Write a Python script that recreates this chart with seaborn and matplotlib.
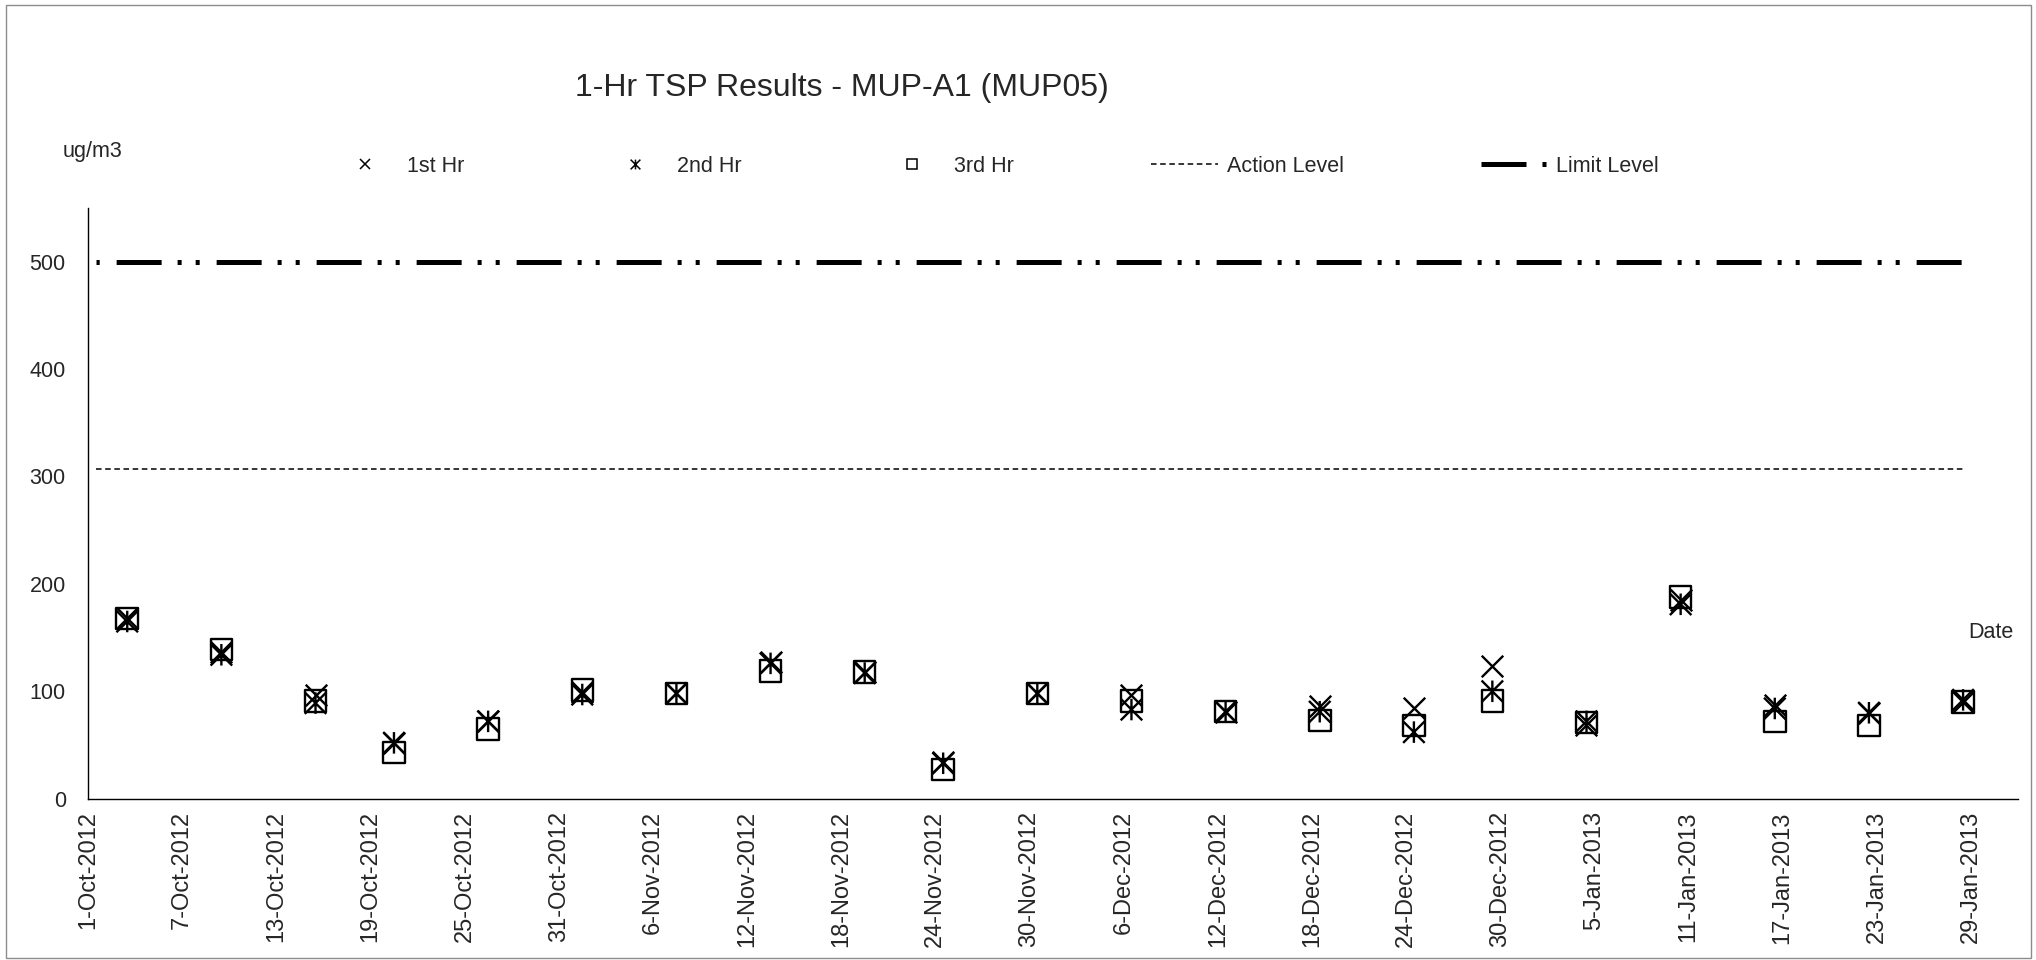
"""
1-Hr TSP results at MUP-A1 (MUP05): three hourly readings per sampling day
plus the action and limit levels.
"""
import numpy as np
import pandas as pd
import matplotlib
matplotlib.use("Agg")
import matplotlib.pyplot as plt
import matplotlib.dates as mdates
from matplotlib.lines import Line2D
from matplotlib.path import Path
from matplotlib.patches import Rectangle
import seaborn as sns

# -----------------------------------------------------------------------------
# Data
# -----------------------------------------------------------------------------
sample_dates = [
    "2012-10-03", "2012-10-09", "2012-10-15", "2012-10-20", "2012-10-26",
    "2012-11-01", "2012-11-07", "2012-11-13", "2012-11-19", "2012-11-24",
    "2012-11-30", "2012-12-06", "2012-12-12", "2012-12-18", "2012-12-24",
    "2012-12-29", "2013-01-04", "2013-01-10", "2013-01-16", "2013-01-22",
    "2013-01-28",
]
hr1 = [168, 137, 97, 52, 72, 99, 98, 127, 118, 34, 98,
       97, 81, 86, 84, 124, 69, 185, 87, 80, 90]
hr2 = [165, 134, 89, 52, 72, 97, 98, 126, 117, 33, 98,
       83, 81, 81, 62, 100, 72, 181, 84, 80, 92]
hr3 = [168, 139, 91, 43, 65, 101, 98, 119, 118, 27, 98,
       91, 81, 73, 68, 91, 71, 188, 72, 68, 90]

level_dates = ["2012-10-01", "2013-01-28"]
action_level = [307, 307]
limit_level = [500, 500]

axis_start, axis_end = "2012-10-01", "2013-02-01"
tick_start, tick_end, tick_step = "2012-10-01", "2013-01-29", "6D"
y_ticks = [0, 100, 200, 300, 400, 500]

title = "1-Hr TSP Results - MUP-A1 (MUP05)"
series_labels = ["1st Hr", "2nd Hr", "3rd Hr", "Action Level", "Limit Level"]

# -----------------------------------------------------------------------------
# Style
# -----------------------------------------------------------------------------
sns.set_style("white")
plt.rcParams["font.family"] = ["Liberation Sans", "DejaVu Sans"]
plt.rcParams["lines.scale_dashes"] = False

W, H, DPI = 2036, 960, 100
fig = plt.figure(figsize=(W / DPI, H / DPI), dpi=DPI)
ax = fig.add_axes([88 / W, 1 - 798.7 / H, (2018 - 88) / W, (798.7 - 208) / H])

# Excel "between tick marks": a day's point sits in the middle of the day
half_day = pd.Timedelta(hours=12)
x_days = pd.to_datetime(sample_dates) + half_day
x_levels = pd.to_datetime(level_dates) + half_day

# asterisk marker: an X with a vertical bar through it
star = Path(
    [(-1, -1), (1, 1), (-1, 1), (1, -1), (0, -1), (0, 1)],
    [Path.MOVETO, Path.LINETO, Path.MOVETO, Path.LINETO, Path.MOVETO, Path.LINETO],
)

limit_dash = (57.5, (32.4, 11.5, 2.9, 10.1, 2.9, 12.2))
limit_dash_legend = (0, (32.4, 11.5, 2.9, 10.1, 2.9, 12.2))
action_dash = (0, (4.0, 2.6))

sns.lineplot(x=x_levels, y=limit_level, color="black", linewidth=3.6,
             linestyle=limit_dash, ax=ax, legend=False)
sns.lineplot(x=x_levels, y=action_level, color="black", linewidth=1.1,
             linestyle=action_dash, ax=ax, legend=False)

msize = 15.5 ** 2
lw = 1.7
sns.scatterplot(x=x_days, y=hr3, marker="s", s=msize, facecolor="none",
                edgecolor="black", linewidth=lw, ax=ax, legend=False, zorder=3)
sns.scatterplot(x=x_days, y=hr1, marker="x", s=msize, color="black",
                linewidth=lw, ax=ax, legend=False, zorder=4)
sns.scatterplot(x=x_days, y=hr2, marker=star, s=msize, facecolor="none",
                edgecolor="black", linewidth=lw, ax=ax, legend=False, zorder=5)

# -----------------------------------------------------------------------------
# Axes
# -----------------------------------------------------------------------------
ax.set_xlim(pd.Timestamp(axis_start), pd.Timestamp(axis_end))
ax.set_ylim(0, 550)
ticks = pd.date_range(tick_start, tick_end, freq=tick_step)
ax.set_xticks(mdates.date2num(ticks))
ax.set_xticklabels([f"{d.day}-{d:%b-%Y}" for d in ticks], rotation=90,
                   fontsize=17, va="top")
ax.set_yticks(y_ticks)
ax.set_yticklabels([str(v) for v in y_ticks], fontsize=15.5)
ax.tick_params(axis="x", direction="in", length=5.8, width=0.8,
               color="#8a8a8a", pad=9)
ax.tick_params(axis="y", direction="in", length=5.8, width=0.8,
               color="#8a8a8a", pad=16)
ax.set_xlabel("")
ax.set_ylabel("")
for side in ("top", "right"):
    ax.spines[side].set_visible(False)
for side in ("left", "bottom"):
    ax.spines[side].set_color("black")
    ax.spines[side].set_linewidth(1.0)

# -----------------------------------------------------------------------------
# Texts, legend, outer frame
# -----------------------------------------------------------------------------
fig.text(842 / W, 1 - 88 / H, title, ha="center", va="center", fontsize=23)
fig.text(63 / W, 1 - 152 / H, "ug/m3", ha="left", va="center", fontsize=15.5)
fig.text(1968 / W, 1 - 633 / H, "Date", ha="left", va="center", fontsize=15.5)

handles = [
    Line2D([], [], linestyle="none", marker="x", markersize=7,
           markeredgewidth=1.1, color="black"),
    Line2D([], [], linestyle="none", marker=star, markersize=7,
           markeredgewidth=1.1, markerfacecolor="none", color="black"),
    Line2D([], [], linestyle="none", marker="s", markersize=7,
           markeredgewidth=1.1, markerfacecolor="none", color="black"),
    Line2D([], [], linestyle=action_dash, linewidth=1.1, color="black"),
    Line2D([], [], linestyle=limit_dash_legend, linewidth=3.6, color="black"),
]
fig.legend(handles, series_labels, ncol=5, loc="center left",
           bbox_to_anchor=(332 / W, 1 - 166 / H), frameon=False, fontsize=15.5,
           handlelength=3.1, handletextpad=0.4, columnspacing=6.37,
           borderpad=0, borderaxespad=0)

fig.add_artist(Rectangle((6 / W, 2 / H), (2031 - 6) / W, (955 - 2) / H,
                         transform=fig.transFigure, fill=False,
                         edgecolor="#8c8c8c", linewidth=1.0))

fig.savefig("out.png", dpi=DPI)
